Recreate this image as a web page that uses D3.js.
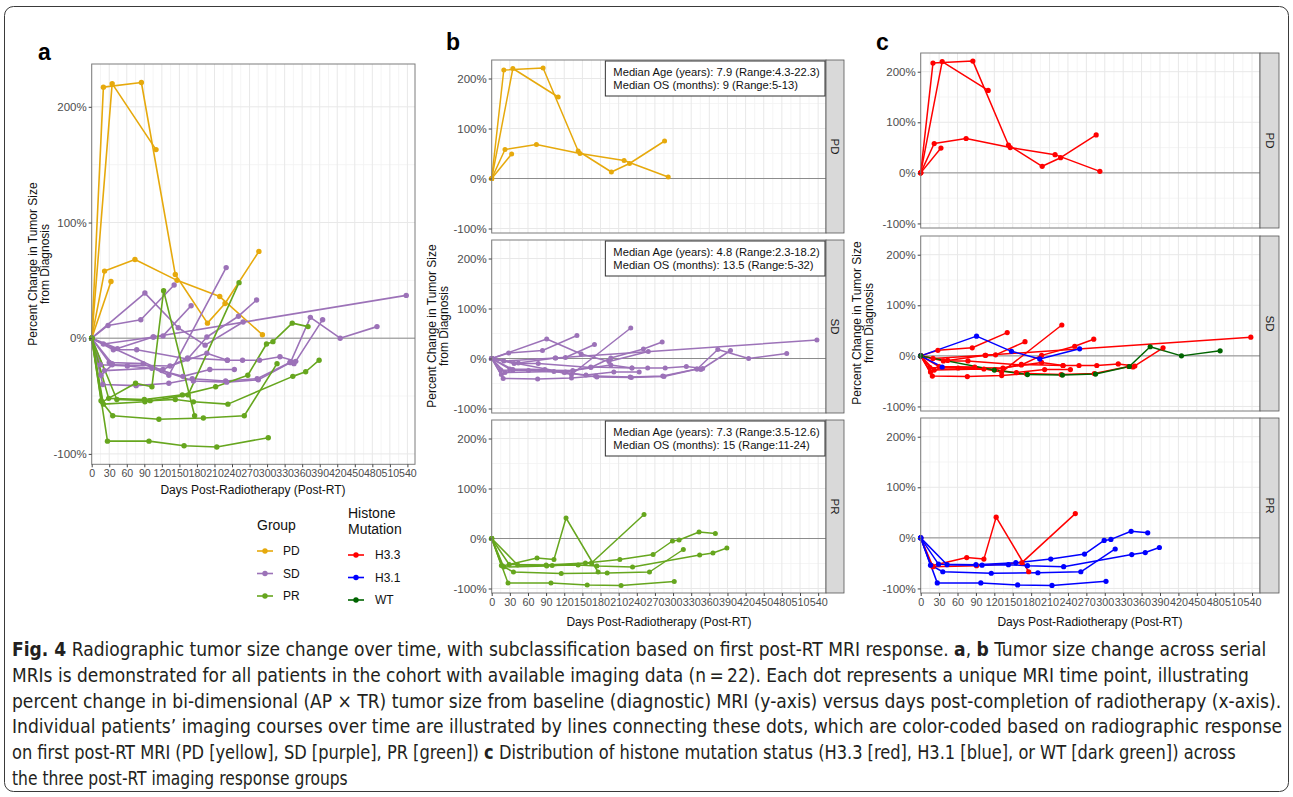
<!DOCTYPE html>
<html>
<head>
<meta charset="utf-8">
<script src="https://cdn.jsdelivr.net/npm/d3@7"></script>
<style>
  body { margin: 0; background: #fff; }
  svg { display: block; font-family: "Liberation Sans", Arial, sans-serif; }
</style>
</head>
<body>
<svg id="fig" width="1293" height="797"></svg>
<script>
// ---- data ----
const xBreaks = [0, 30, 60, 90, 120, 150, 180, 210, 240, 270, 300, 330, 360, 390, 420, 450, 480, 510, 540];
const yBreaks = [-100, 0, 100, 200];
const groups = ["PD", "SD", "PR"];
const groupColors = ["#E6A90C", "#9C72B8", "#66A61E"];
const mutations = ["H3.3", "H3.1", "WT"];
const mutationColors = ["#FF0000", "#0000FF", "#006400"];

// each patient: [days post-RT, % change]
const pd1 = [[0, 0], [35, 220], [110, 163]];
const pd2 = [[0, 0], [20, 217], [85, 221], [143, 55], [198, 13], [228, 30], [286, 75]];
const pd3 = [[0, 0], [22, 58], [74, 68], [146, 50], [219, 36], [292, 3]];
const pd4 = [[0, 0], [33, 49]];

const sd1 = [[0, 0], [28, 11], [84, 16], [141, 46]];
const sd2 = [[0, 0], [20, -5], [106, 1], [122, 2], [170, 28]];
const sd3 = [[0, 0], [30, -21], [88, -22], [132, -32], [230, 61]];
const sd4 = [[0, 0], [37, -10], [77, -10], [164, -18], [197, 1], [251, 19], [282, 33]];
const sd5 = [[0, 0], [44, -9], [105, 1], [538, 37]];
const sd6 = [[0, 0], [15, -23], [61, -24], [122, -27], [164, -17], [232, -19], [258, -19], [287, -19], [322, -16], [349, -20], [395, 16]];
const sd7 = [[0, 0], [16, -32], [35, -23], [134, -24], [197, -13], [232, -19]];
const sd8 = [[0, 0], [19, -40], [76, -41], [132, -39], [172, -35], [229, -37], [283, -35], [339, -21], [346, -22]];
const sd9 = [[0, 0], [22, -28], [103, -26], [156, -33], [202, -27], [244, -27]];
const sd10 = [[0, 0], [91, 39], [148, 9], [194, -6], [259, 14]];
const sd11 = [[0, 0], [35, -22]];
const sd12 = [[0, 0], [120, -28], [174, -37], [231, -38], [285, -36], [340, -21], [374, 18], [425, 0], [488, 10]];

const pr1 = [[0, 0], [18, -55], [75, -39], [103, -42], [123, 41], [176, -67]];
const pr2 = [[0, 0], [20, -57], [91, -55], [165, -49], [252, 48]];
const pr3 = [[0, 0], [27, -89], [98, -89], [158, -93], [214, -94], [302, -86]];
const pr4 = [[0, 0], [16, -54], [36, -67], [115, -70], [191, -69], [261, -67], [317, -22]];
const pr5 = [[0, 0], [29, -52], [90, -53], [155, -49], [212, -42], [267, -32], [299, -5], [310, -3], [343, 13], [370, 10]];
const pr6 = [[0, 0], [43, -53], [100, -54], [143, -53], [174, -55], [233, -57], [344, -33], [366, -29], [389, -19]];

const patientPoints = [pd1, pd2, pd3, pd4, sd1, sd2, sd3, sd4, sd5, sd6, sd7, sd8, sd9, sd10, sd11, sd12, pr1, pr2, pr3, pr4, pr5, pr6];
const patientGroup = ["PD", "PD", "PD", "PD", "SD", "SD", "SD", "SD", "SD", "SD", "SD", "SD", "SD", "SD", "SD", "SD", "PR", "PR", "PR", "PR", "PR", "PR"];
const patientMutation = ["H3.3", "H3.3", "H3.3", "H3.3", "H3.3", "H3.3", "H3.3", "H3.3", "H3.3", "H3.3", "H3.3", "H3.3", "H3.3", "H3.1", "H3.1", "WT", "H3.3", "H3.3", "H3.1", "H3.1", "H3.1", "H3.1"];

const facetNotes = {
  PD: ["Median Age (years): 7.9 (Range:4.3-22.3)", "Median OS (months): 9 (Range:5-13)"],
  SD: ["Median Age (years): 4.8 (Range:2.3-18.2)", "Median OS (months): 13.5 (Range:5-32)"],
  PR: ["Median Age (years): 7.3 (Range:3.5-12.6)", "Median OS (months): 15 (Range:11-24)"]
};

const captionLines = [
  { w: 1255, parts: [["Fig. 4", true], ["  Radiographic tumor size change over time, with subclassification based on first post-RT MRI response. ", false], ["a", true], [", ", false], ["b", true], [" Tumor size change across serial", false]] },
  { w: 1238, parts: [["MRIs is demonstrated for all patients in the cohort with available imaging data (n\u2009=\u200922). Each dot represents a unique MRI time point, illustrating", false]] },
  { w: 1270, parts: [["percent change in bi-dimensional (AP \u00d7 TR) tumor size from baseline (diagnostic) MRI (y-axis) versus days post-completion of radiotherapy (x-axis).", false]] },
  { w: 1271, parts: [["Individual patients\u2019 imaging courses over time are illustrated by lines connecting these dots, which are color-coded based on radiographic response", false]] },
  { w: 1225, parts: [["on first post-RT MRI (PD [yellow], SD [purple], PR [green]) ", false], ["c", true], [" Distribution of histone mutation status (H3.3 [red], H3.1 [blue], or WT [dark green]) across", false]] },
  { w: 336, parts: [["the three post-RT imaging response groups", false]] }
];

// ---- drawing ----
const X_DOMAIN = [0, 553];
const Y_DOMAIN = [-109, 237];
const FONT = "'Liberation Sans', Arial, sans-serif";
const svg = d3.select("#fig");

const patients = patientPoints.map((pts, i) => ({ pts, group: patientGroup[i], mut: patientMutation[i] }));
const groupColor = d3.scaleOrdinal(groups, groupColors);
const mutColor = d3.scaleOrdinal(mutations, mutationColors);

const xMinor = xBreaks.slice(1).map((d, i) => (d + xBreaks[i]) / 2);
const yMinor = yBreaks.slice(1).map((d, i) => (d + yBreaks[i]) / 2);

svg.append("rect")
  .attr("x", 4.5).attr("y", 6.5).attr("width", 1284).attr("height", 785)
  .attr("rx", 9).attr("fill", "none").attr("stroke", "#3a3a3a").attr("stroke-width", 1);

function facet(x, y, data, colorFn, opt) {
  const g = svg.append("g");
  const [L, R] = x.range();
  const [B, T] = y.range();

  g.selectAll(".vmin").data(xMinor).join("line")
    .attr("x1", d => x(d)).attr("x2", d => x(d)).attr("y1", T).attr("y2", B)
    .attr("stroke", "#f2f2f2").attr("stroke-width", 0.8);
  g.selectAll(".hmin").data(yMinor).join("line")
    .attr("x1", L).attr("x2", R).attr("y1", d => y(d)).attr("y2", d => y(d))
    .attr("stroke", "#f2f2f2").attr("stroke-width", 0.8);
  g.selectAll(".vmaj").data(xBreaks).join("line")
    .attr("x1", d => x(d)).attr("x2", d => x(d)).attr("y1", T).attr("y2", B)
    .attr("stroke", "#e8e8e8").attr("stroke-width", 1);
  g.selectAll(".hmaj").data(yBreaks).join("line")
    .attr("x1", L).attr("x2", R).attr("y1", d => y(d)).attr("y2", d => y(d))
    .attr("stroke", "#e8e8e8").attr("stroke-width", 1);

  // zero reference line
  g.append("line").attr("x1", L).attr("x2", R).attr("y1", y(0)).attr("y2", y(0))
    .attr("stroke", "#8c8c8c").attr("stroke-width", 1);

  const line = d3.line().x(d => x(d[0])).y(d => y(d[1]));
  g.selectAll(".traj").data(data).join("path")
    .attr("d", d => line(d.pts))
    .attr("fill", "none")
    .attr("stroke", colorFn)
    .attr("stroke-width", opt.lw)
    .attr("stroke-linejoin", "round");
  g.selectAll(".pts").data(data).join("g")
    .attr("fill", colorFn)
    .selectAll("circle").data(d => d.pts).join("circle")
    .attr("cx", d => x(d[0])).attr("cy", d => y(d[1])).attr("r", opt.r);

  g.append("rect").attr("x", L).attr("y", T).attr("width", R - L).attr("height", B - T)
    .attr("fill", "none").attr("stroke", "#7d7d7d").attr("stroke-width", 1);

  // y axis
  const yAxis = g.append("g").attr("transform", `translate(${L},0)`)
    .call(d3.axisLeft(y).tickValues(yBreaks).tickFormat(d => d + "%").tickSize(3).tickPadding(2));
  yAxis.select(".domain").remove();
  yAxis.selectAll("line").attr("stroke", "#444");
  yAxis.selectAll("text").attr("fill", "#4d4d4d").style("font-size", "11.5px").style("font-family", FONT);

  if (opt.showX) {
    const xAxis = g.append("g").attr("transform", `translate(0,${B})`)
      .call(d3.axisBottom(x).tickValues(xBreaks).tickSize(3).tickPadding(2));
    xAxis.select(".domain").remove();
    xAxis.selectAll("line").attr("stroke", "#444");
    xAxis.selectAll("text").attr("fill", "#4d4d4d").style("font-size", opt.xfs + "px").style("font-family", FONT);
  }

  if (opt.strip) {
    g.append("rect").attr("x", R).attr("y", T).attr("width", opt.stripW).attr("height", B - T)
      .attr("fill", "#d9d9d9").attr("stroke", "#555").attr("stroke-width", 0.8);
    g.append("text")
      .attr("transform", `translate(${R + opt.stripW / 2 - 4},${(T + B) / 2}) rotate(90)`)
      .attr("text-anchor", "middle")
      .attr("fill", "#1a1a1a").style("font-size", "11.5px")
      .text(opt.strip);
  }

  if (opt.note) {
    const bx = x(188), bw = R - bx;
    g.append("rect").attr("x", bx).attr("y", T + 1).attr("width", bw - 1).attr("height", 35)
      .attr("fill", "#fff").attr("stroke", "#333").attr("stroke-width", 1);
    g.selectAll(".note").data(opt.note).join("text")
      .attr("x", bx + 8).attr("y", (d, i) => T + 16 + i * 12.8)
      .attr("fill", "#111").style("font-size", "11.2px")
      .text(d => d);
  }
}

function yTitle(cx, cy) {
  const t = svg.append("text")
    .attr("transform", `translate(${cx},${cy}) rotate(-90)`)
    .attr("text-anchor", "middle").attr("fill", "#111").style("font-size", "12px");
  t.append("tspan").attr("x", 0).attr("y", 0).text("Percent Change in Tumor Size");
  t.append("tspan").attr("x", 0).attr("y", 12).text("from Diagnosis");
}

function xTitle(cx, y) {
  svg.append("text").attr("x", cx).attr("y", y).attr("text-anchor", "middle")
    .attr("fill", "#111").style("font-size", "12px").text("Days Post-Radiotherapy (Post-RT)");
}

function panelLetter(t, x, y) {
  svg.append("text").attr("x", x).attr("y", y).attr("font-weight", "bold")
    .attr("fill", "#000").style("font-size", "23px").text(t);
}

// Panel a
const ax = d3.scaleLinear().domain(X_DOMAIN).range([91.7, 415]);
const ay = d3.scaleLinear().domain(Y_DOMAIN).range([464.3, 64]);
facet(ax, ay, patients, d => groupColor(d.group), { lw: 1.6, r: 2.7, showX: true, xfs: 10.6 });
panelLetter("a", 38, 60);
yTitle(36.5, 264);
xTitle(253, 494);

// Panel b
const bx = d3.scaleLinear().domain(X_DOMAIN).range([491.7, 826]);
const bTops = [60, 240, 420];
groups.forEach((grp, i) => {
  const by = d3.scaleLinear().domain(Y_DOMAIN).range([bTops[i] + 173, bTops[i]]);
  facet(bx, by, patients.filter(p => p.group === grp), d => groupColor(d.group),
    { lw: 1.5, r: 2.5, showX: i === 2, xfs: 10.8, strip: grp, stripW: 18, note: facetNotes[grp] });
});
panelLetter("b", 446, 50);
yTitle(436, 326);
xTitle(659, 626);

// Panel c
const cx = d3.scaleLinear().domain(X_DOMAIN).range([920.7, 1260]);
const cTops = [53, 236, 418];
groups.forEach((grp, i) => {
  const cy = d3.scaleLinear().domain(Y_DOMAIN).range([cTops[i] + 175, cTops[i]]);
  facet(cx, cy, patients.filter(p => p.group === grp), d => mutColor(d.mut),
    { lw: 1.5, r: 2.6, showX: i === 2, xfs: 10.8, strip: grp, stripW: 19 });
});
panelLetter("c", 876, 50);
yTitle(861, 323);
xTitle(1090, 626);

// Legends
function legend(x, y, titleLines, labels, colors, textX) {
  const g = svg.append("g");
  titleLines.forEach((t, i) => g.append("text").attr("x", x).attr("y", y + i * 16)
    .attr("fill", "#111").style("font-size", "14px").text(t));
  const top = y + (titleLines.length - 1) * 16;
  labels.forEach((lab, i) => {
    const ly = top + 21 + i * 22.5;
    g.append("line").attr("x1", x).attr("x2", x + 16).attr("y1", ly).attr("y2", ly)
      .attr("stroke", colors[i]).attr("stroke-width", 1.6);
    g.append("circle").attr("cx", x + 8).attr("cy", ly).attr("r", 2.7).attr("fill", colors[i]);
    g.append("text").attr("x", textX).attr("y", ly + 4).attr("fill", "#111")
      .style("font-size", "12px").text(lab);
  });
}
legend(257, 530, ["Group"], groups, groupColors, 283);
legend(348, 518, ["Histone", "Mutation"], mutations, mutationColors, 375);

// Caption
const capFont = "'Liberation Sans Narrow', 'DejaVu Sans Condensed', 'Liberation Sans', sans-serif";
captionLines.forEach((ln, i) => {
  const t = svg.append("text").attr("y", 0).attr("fill", "#231f20")
    .style("font-family", capFont).style("font-size", "19px");
  ln.parts.forEach(([s, b]) => t.append("tspan").attr("font-weight", b ? "bold" : "normal").text(s));
  const w = t.node().getBBox().width;
  t.attr("transform", `translate(12,${656 + i * 25.8}) scale(${ln.w / w},1)`);
});
</script>
</body>
</html>
